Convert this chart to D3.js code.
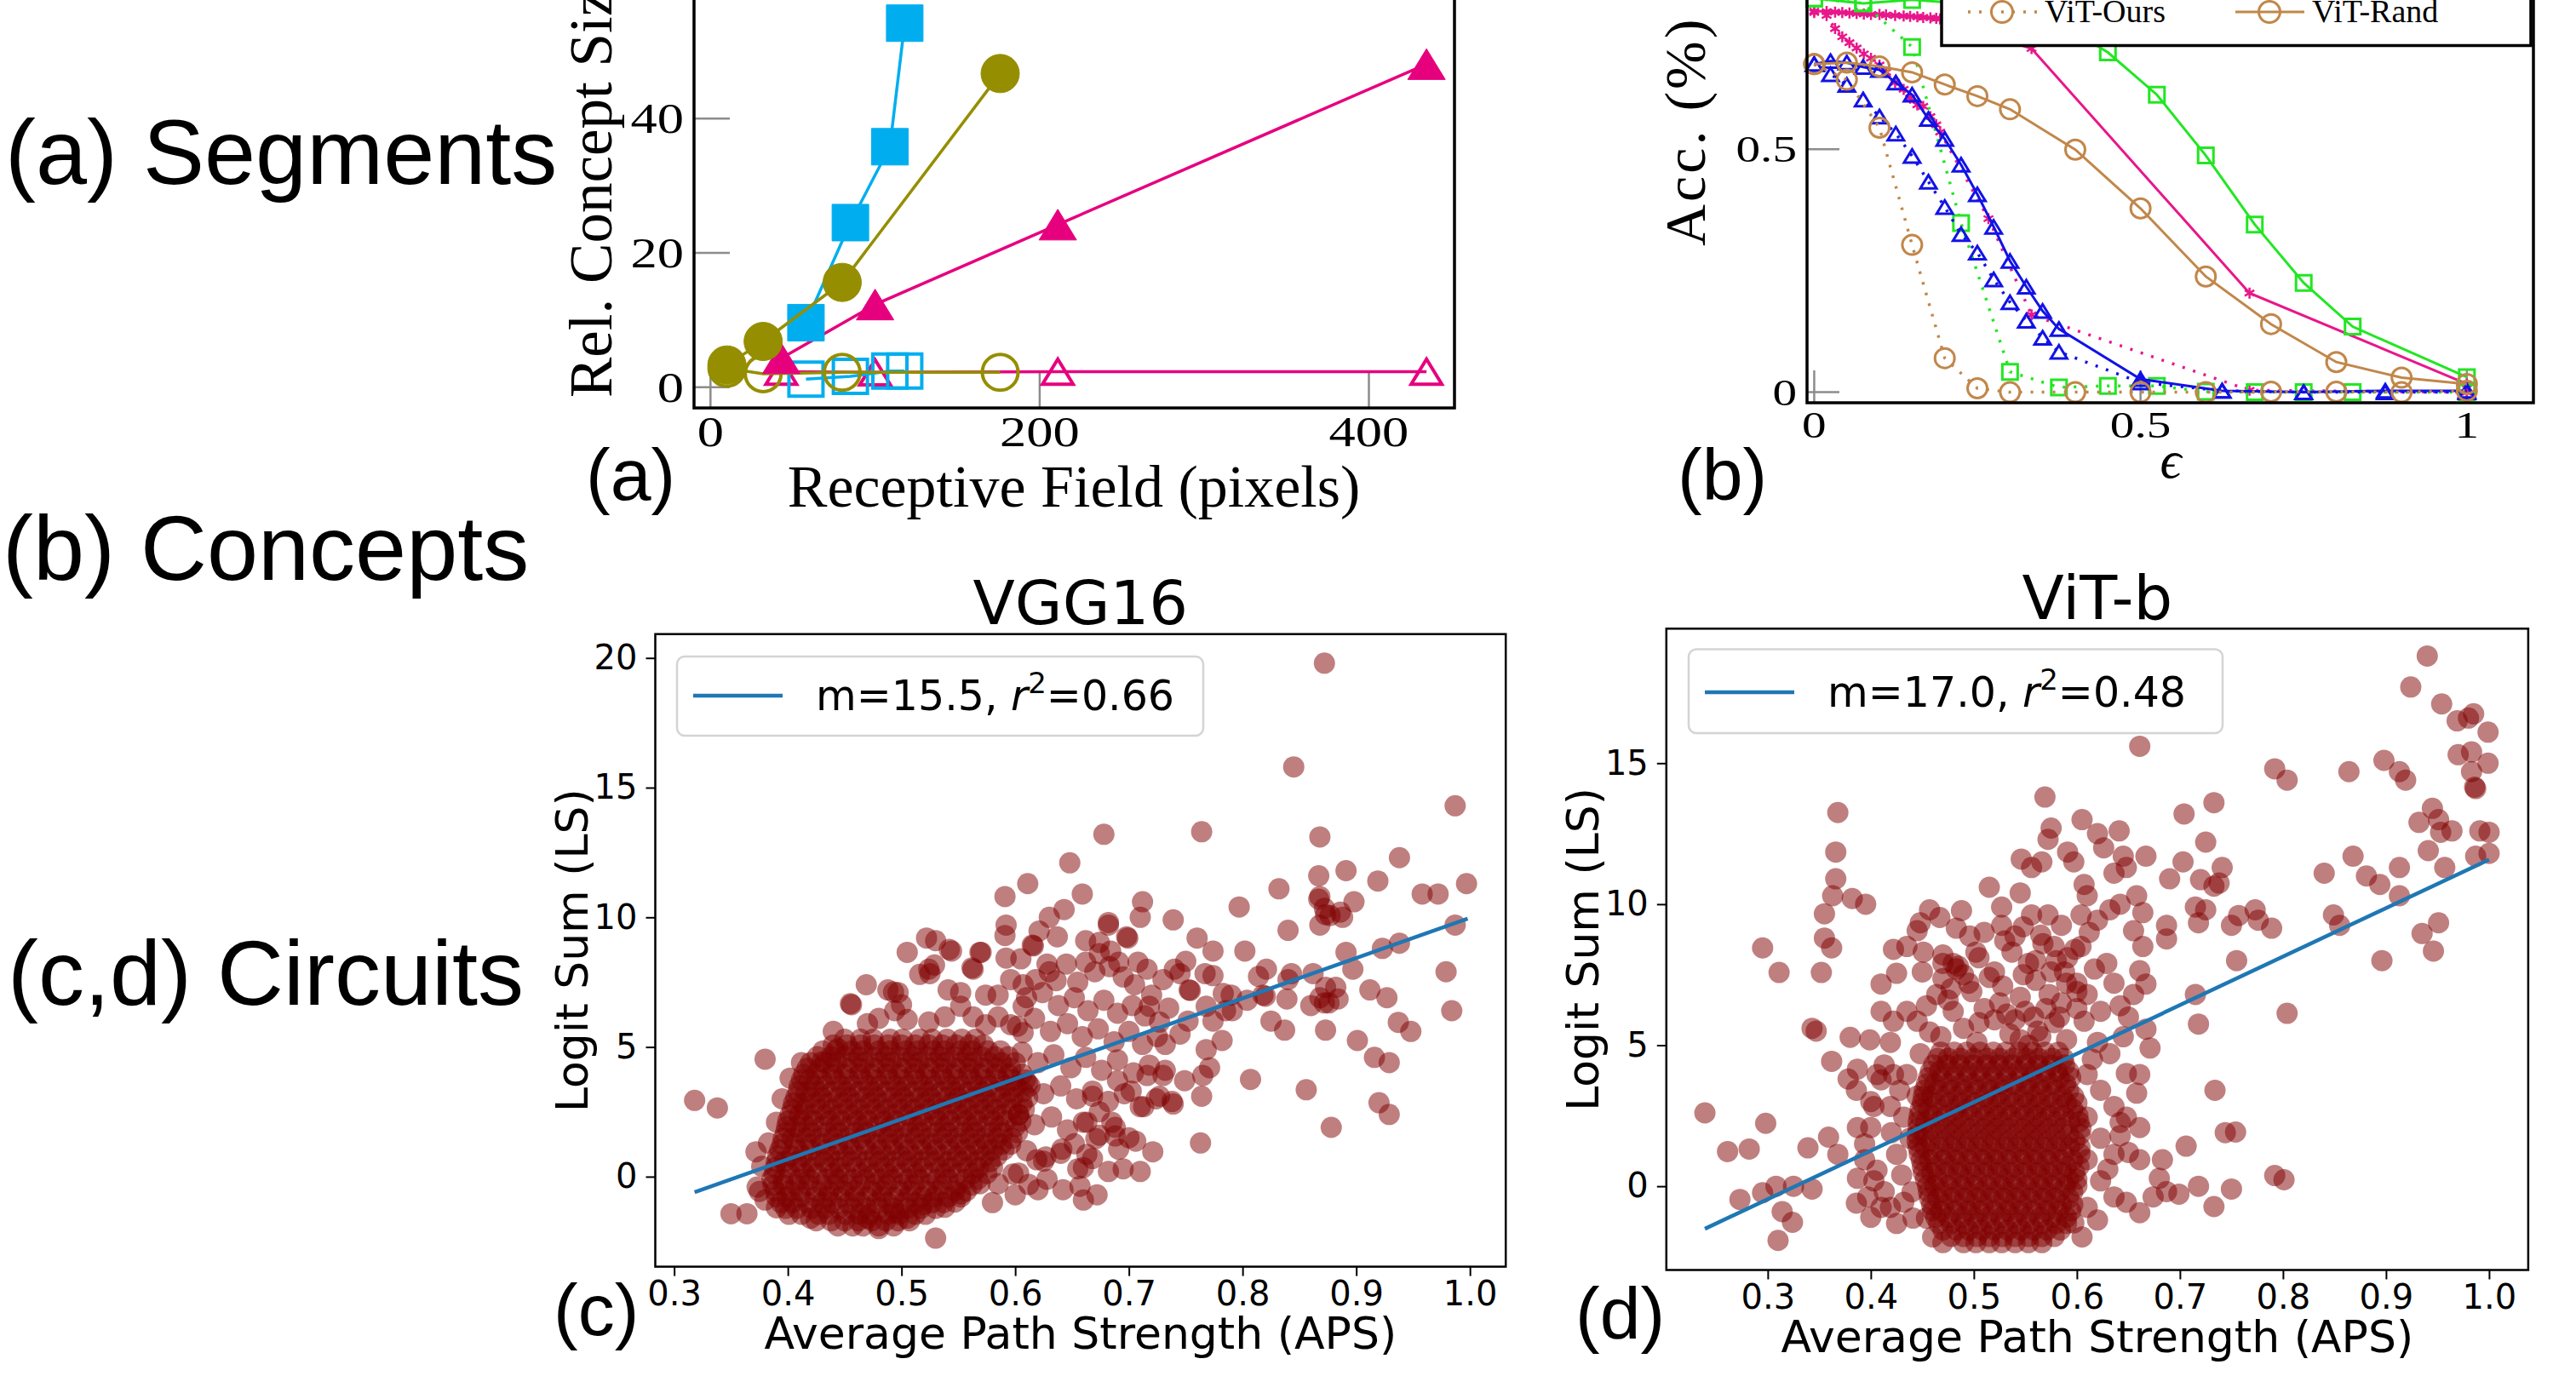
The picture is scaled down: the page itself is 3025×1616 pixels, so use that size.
<!DOCTYPE html>
<html>
<head>
<meta charset="utf-8">
<script src="https://cdn.jsdelivr.net/npm/d3@7"></script>
<style>
body { margin: 0; background: #fff; }
</style>
</head>
<body>
<svg id="fig" width="3025" height="1616"></svg>
<script>
// ---------- row labels ----------
const rowLabels = ['(a) Segments', '(b) Concepts', '(c,d) Circuits'];

// ---------- (a) receptive field vs relative concept size ----------
const rfCyan = [58, 85, 109, 118];
const sizeCyanFilled = [9.6, 24.5, 35.8, 54.2];
const sizeCyanOpen = [1.2, 1.6, 2.4, 2.4];
const rfOlive = [10, 32, 80, 176];
const sizeOliveFilled = [3.3, 6.8, 15.6, 46.7];
const sizeOliveOpen = [2.8, 2.0, 2.2, 2.2];
const rfMagenta = [43, 100, 211, 435];
const sizeMagentaFilled = [4.3, 12.3, 24.2, 48.1];
const sizeMagentaOpen = [2.3, 2.2, 2.3, 2.3];
const segXTicks = [0, 200, 400];
const segYTicks = [0, 20, 40, 60];

// ---------- (b) accuracy vs epsilon ----------
const epsVit = [0, .05, .1, .15, .2, .25, .3, .4, .5, .6, .7, .8, .9, 1];
const accVitRand = [.675, .678, .670, .658, .633, .609, .582, .499, .378, .238, .140, .062, .030, .017];
const accVitOurs = [.675, .643, .544, .303, .070, .008, 0, 0, 0, 0, .001, .001, 0, .003];
const epsBlue = [0, .025, .05, .075, .1, .125, .15, .175, .2, .225, .25, .275, .3, .325, .35, .375, .5, .625, .75, .875, 1];
const accBlueRand = [.675, .681, .678, .669, .663, .637, .612, .562, .521, .468, .407, .34, .27, .217, .167, .13, .027, .003, 0, .003, .003];
const accBlueOurs = [.675, .654, .632, .602, .567, .532, .486, .433, .381, .325, .287, .232, .185, .147, .112, .083, .02, .003, 0, 0, 0];
const epsGreen = [0, .075, .15, .225, .3, .375, .45, .525, .6, .675, .75, .825, 1];
const accGreenRand = [.81, .80, .807, .80, .79, .76, .699, .612, .487, .345, .225, .135, .031];
const accGreenOurs = [.81, .80, .71, .348, .042, .01, .013, .013, .001, 0, 0, 0, 0];
const epsMagOurs = [0, .019, .032, .043, .054, .065, .076, .087, .1, .11, .124, .137, .147, .158, .167, .178, .187, .193, .267, .333, .667, 1];
const accMagOurs = [.781, .775, .748, .731, .719, .708, .696, .687, .673, .658, .637, .623, .605, .591, .588, .567, .55, .535, .357, .159, .004, 0];
const epsMagRand = [0, .019, .032, .043, .054, .065, .076, .087, .1, .11, .124, .137, .147, .158, .167, .178, .187, .193, .333, .667, 1];
const accMagRand = [.784, .783, .782, .781, .780, .779, .778, .777, .777, .776, .775, .774, .773, .772, .771, .770, .769, .768, .707, .204, .017];
const advXTicks = [0, 0.5, 1];
const advYTicks = [0, 0.5, 1];
const advLegend = ['ViT-Ours', 'ViT-Rand'];

// ---------- (c) VGG16 scatter: dense core rows [LS, [APS...]] and single points [APS, LS] ----------
const vggCoreRows = [
  [-1.9, [.444, .457, .466, .48, .493]],
  [-1.7, [.425, .438, .45, .462, .474, .486, .497, .507]],
  [-1.45, [.401, .412, .427, .436, .451, .463, .472, .488, .498, .512, .521]],
  [-1.22, [.398, .408, .421, .433, .445, .457, .469, .48, .493, .505, .517, .53]],
  [-1.0, [.394, .404, .417, .43, .439, .453, .464, .478, .488, .502, .513, .527, .537]],
  [-0.78, [.39, .399, .411, .424, .435, .446, .459, .47, .483, .493, .506, .518, .529, .541, .552]],
  [-0.55, [.389, .402, .411, .425, .436, .449, .459, .474, .483, .498, .508, .522, .532, .547, .557]],
  [-0.32, [.387, .396, .407, .418, .43, .441, .452, .464, .476, .487, .5, .511, .524, .536, .549, .562]],
  [-0.1, [.386, .396, .41, .419, .434, .444, .457, .468, .482, .492, .506, .516, .531, .541, .556, .567]],
  [0.12, [.388, .402, .415, .426, .44, .451, .465, .476, .488, .5, .513, .525, .538, .55, .563, .575]],
  [0.35, [.389, .399, .412, .422, .437, .446, .46, .471, .485, .495, .509, .519, .534, .544, .558, .568, .58]],
  [0.58, [.39, .397, .408, .42, .432, .444, .456, .469, .48, .493, .505, .517, .529, .541, .553, .566, .578]],
  [0.8, [.391, .403, .413, .427, .437, .451, .461, .476, .486, .5, .51, .524, .535, .549, .559, .573, .584]],
  [1.03, [.393, .409, .42, .433, .444, .457, .469, .482, .493, .506, .518, .53, .543, .556, .568, .58, .59]],
  [1.25, [.395, .406, .42, .43, .444, .454, .468, .478, .492, .502, .517, .527, .541, .551, .565, .575, .588, .596]],
  [1.48, [.396, .404, .416, .428, .44, .452, .464, .476, .488, .5, .512, .524, .536, .548, .56, .572, .584, .597]],
  [1.7, [.398, .411, .421, .435, .445, .459, .469, .483, .493, .507, .517, .531, .541, .555, .565, .579, .589, .602]],
  [1.93, [.399, .407, .418, .43, .442, .454, .466, .478, .49, .502, .514, .526, .538, .55, .562, .574, .586, .6]],
  [2.15, [.4, .413, .423, .437, .447, .461, .471, .485, .495, .509, .519, .533, .543, .557, .567, .581, .592, .605]],
  [2.38, [.402, .41, .421, .433, .445, .457, .469, .481, .493, .505, .517, .529, .541, .553, .565, .577, .589, .603]],
  [2.6, [.404, .415, .429, .439, .453, .463, .477, .487, .501, .511, .525, .535, .549, .559, .573, .583, .597, .608]],
  [2.83, [.405, .413, .424, .436, .448, .46, .472, .484, .496, .508, .52, .532, .544, .556, .568, .58, .592, .606]],
  [3.05, [.407, .42, .43, .444, .454, .468, .478, .492, .502, .516, .526, .54, .55, .564, .574, .588, .598, .611]],
  [3.28, [.409, .416, .427, .439, .451, .463, .475, .487, .499, .511, .523, .535, .547, .559, .571, .583, .595, .607]],
  [3.5, [.41, .423, .433, .447, .457, .471, .481, .495, .505, .519, .529, .543, .553, .567, .577, .591, .601, .613]],
  [3.73, [.412, .419, .43, .442, .454, .466, .478, .49, .502, .514, .526, .538, .55, .562, .574, .586, .598, .609]],
  [3.95, [.414, .425, .439, .449, .463, .473, .487, .497, .511, .521, .535, .545, .559, .569, .583, .594, .606]],
  [4.18, [.417, .428, .44, .452, .464, .476, .488, .5, .512, .524, .536, .548, .56, .572, .584, .596]],
  [4.4, [.42, .433, .443, .457, .467, .481, .491, .505, .515, .529, .539, .553, .563, .577, .588, .6]],
  [4.63, [.426, .438, .45, .462, .474, .486, .498, .51, .522, .534, .546, .558, .57, .582, .594]],
  [4.85, [.431, .442, .456, .466, .48, .49, .504, .514, .528, .538, .552, .562, .576, .587]],
  [5.08, [.44, .452, .464, .476, .488, .5, .512, .524, .536, .548, .56, .572]],
  [5.3, [.45, .464, .475, .49, .501, .516, .527, .54, .553, .565]]
];
const vggPts = [
  [.318, 2.94], [.338, 2.65], [.38, 4.53], [.872, 19.8], [.845, 15.8], [.987, 14.3], [.678, 13.2], [.764, 13.3],
  [.868, 13.1], [.648, 12.1], [.611, 11.3], [.591, 10.8], [.659, 10.9], [.938, 12.3], [.919, 11.4], [.891, 11.8],
  [.867, 11.6], [.868, 10.8], [.832, 11.1], [.997, 11.3], [.958, 10.9], [.972, 10.9], [.797, 10.4], [.712, 10.6],
  [.643, 10.3], [.63, 10.0], [.71, 10.0], [.739, 9.9], [.873, 10.1], [.886, 10.2], [.898, 10.6], [.84, 9.5],
  [.868, 9.7], [.987, 9.7], [.76, 9.2], [.774, 8.7], [.802, 8.7], [.591, 9.3], [.53, 9.1], [.544, 8.7],
  [.57, 8.65], [.505, 8.65], [.616, 8.9], [.662, 9.1], [.682, 9.7], [.699, 9.2], [.674, 8.6], [.891, 8.65],
  [.923, 8.8], [.938, 9.0], [.74, 8.0], [.821, 8.0], [.84, 7.6], [.897, 8.0], [.912, 7.2], [.927, 6.9],
  [.979, 7.9], [.873, 7.3], [.876, 6.7], [.86, 6.6], [.753, 7.2], [.79, 7.0], [.804, 6.8], [.818, 7.0],
  [.774, 7.75], [.984, 6.4], [.825, 6.0], [.837, 5.65], [.873, 5.65], [.901, 5.25], [.937, 5.95], [.948, 5.6],
  [.916, 4.6], [.929, 4.4], [.807, 3.75], [.856, 3.35], [.92, 2.85], [.929, 2.4], [.878, 1.9], [.764, 3.1],
  [.763, 1.3], [.739, 2.8], [.721, .96], [.706, 1.37], [.691, 1.06], [.657, -.37], [.53, -2.37], [.505, -1.6],
  [.35, -1.43], [.364, -1.43], [.375, -.57], [.372, .96], [.882, 7.3], [.868, 6.9],
  [.867, 10.7], [.872, 10.35], [.877, 10.07], [.888, 10.0], [.745, 7.83], [.754, 7.18], [.767, 7.83], [.783, 7.06],
  [.791, 6.4], [.814, 7.72], [.843, 7.83], [.862, 7.83], [.884, 6.85], [.872, 6.7], [.82, 6.96], [.839, 6.85],
  [.469, 7.4], [.493, 7.12], [.5, 6.63], [.456, 6.63], [.522, 9.2], [.529, 8.16], [.542, 8.76], [.525, 7.83],
  [.562, 8.05], [.569, 8.65], [.592, 9.7], [.621, 9.47], [.637, 9.25], [.615, 8.93], [.592, 8.43], [.628, 8.2],
  [.636, 7.56], [.662, 8.27], [.691, 8.27], [.708, 8.27], [.698, 9.25], [.684, 8.7], [.674, 9.03], [.682, 9.8],
  [.455, 6.67], [.488, 7.2], [.497, 7.1], [.516, 7.8], [.524, 8.0], [.541, 7.2], [.552, 7.1], [.563, 8.0],
  [.574, 7.0], [.585, 7.0], [.596, 7.6], [.607, 7.4], [.494, 6.4], [.505, 6.06], [.524, 5.96], [.538, 6.16],
  [.552, 6.57], [.563, 6.16], [.574, 5.86], [.585, 6.16], [.596, 5.86], [.607, 6.57], [.607, 5.55], [.444, 4.94],
  [.43, 4.43], [.44, 5.6], [.47, 5.9], [.48, 6.1],
  [.605, 8.4], [.618, 7.6], [.63, 7.9], [.645, 8.2], [.655, 7.5], [.67, 7.9], [.683, 8.1], [.695, 7.7],
  [.61, 6.9], [.624, 7.1], [.638, 6.6], [.652, 6.9], [.664, 6.4], [.678, 6.8], [.69, 6.3], [.703, 6.6], [.714, 6.2],
  [.602, 5.8], [.617, 6.1], [.631, 5.6], [.646, 5.9], [.659, 5.4], [.673, 5.7], [.687, 5.2], [.7, 5.6], [.712, 5.1], [.725, 5.4],
  [.606, 4.8], [.62, 4.4], [.634, 4.7], [.649, 4.2], [.662, 4.6], [.676, 4.1], [.69, 4.5], [.704, 4.0], [.718, 4.3], [.73, 3.9],
  [.611, 3.6], [.625, 3.2], [.64, 3.5], [.654, 3.0], [.668, 3.3], [.682, 2.9], [.696, 3.2], [.71, 2.7], [.724, 3.0],
  [.603, 2.4], [.617, 2.0], [.632, 2.3], [.646, 1.8], [.66, 2.1], [.674, 1.6], [.688, 1.9], [.7, 1.5],
  [.61, 1.0], [.625, .6], [.64, .9], [.655, .3], [.668, .7], [.682, .2],
  [.598, .1], [.612, -.3], [.628, -.1], [.642, -.5], [.66, -.9],
  [.727, 3.1], [.716, 3.9], [.732, 4.1], [.732, 5.1], [.727, 5.96], [.718, 6.57], [.749, 3.7], [.738, 2.9],
  [.765, 3.9], [.771, 4.2], [.768, 4.9], [.782, 5.25], [.774, 6.0], [.785, 6.4], [.768, 6.57], [.702, 3.3],
  [.713, 2.7], [.745, 5.5], [.735, 6.5], [.752, 6.0], [.72, 7.0], [.705, 7.4], [.73, 7.6], [.716, 8.0], [.75, 8.3],
  [.603, .14], [.585, -.27], [.619, .65], [.627, .76], [.66, .35], [.663, .86], [.641, 1.06], [.652, 1.27],
  [.671, 1.47], [.688, 1.57], [.685, 2.1], [.663, 2.1], [.674, 2.5], [.668, 3.1], [.69, 3.7], [.569, -.27],
  [.552, -.67], [.547, -.98], [.538, -1.18], [.519, -1.08], [.494, -1.39], [.47, -1.6], [.42, -1.6], [.39, -1.2],
  [.38, -.9], [.373, -.4], [.377, .4], [.383, 1.3], [.39, 2.1], [.395, 3.0], [.402, 3.8], [.412, 4.4],
  [.48, -2.0], [.62, -.5], [.58, -1.0], [.6, -.7], [.672, -.7], [.695, .3], [.71, .2]
];
const vggFit = [[0.318, -0.6], [0.998, 9.95]];
const vggFitLabel = ['15.5', '0.66'];

// ---------- (d) ViT-b scatter ----------
const vitCoreRows = [
  [-2.0, [.49, .502, .515, .527, .54, .553, .566]],
  [-1.78, [.478, .49, .503, .515, .528, .54, .553, .566, .578]],
  [-1.55, [.47, .483, .495, .508, .52, .533, .546, .558, .571, .584]],
  [-1.32, [.466, .478, .491, .504, .516, .529, .542, .554, .567, .58, .59]],
  [-1.1, [.463, .475, .488, .5, .513, .526, .538, .551, .564, .576, .59]],
  [-0.88, [.46, .468, .481, .494, .506, .519, .532, .544, .557, .57, .582, .594]],
  [-0.65, [.459, .471, .484, .497, .509, .522, .535, .547, .56, .573, .585, .596]],
  [-0.42, [.457, .465, .478, .491, .503, .516, .529, .541, .554, .567, .579, .592]],
  [-0.2, [.456, .469, .481, .494, .507, .519, .532, .545, .557, .57, .583, .596]],
  [0.02, [.455, .462, .475, .488, .5, .513, .526, .538, .551, .564, .576, .589, .6]],
  [0.25, [.453, .465, .478, .491, .503, .516, .529, .541, .554, .567, .579, .592, .6]],
  [0.48, [.451, .459, .472, .485, .497, .51, .523, .535, .548, .561, .573, .586, .598]],
  [0.7, [.45, .463, .476, .488, .501, .514, .526, .539, .552, .564, .577, .59, .602]],
  [0.93, [.449, .457, .47, .482, .495, .508, .52, .533, .546, .558, .571, .584, .596]],
  [1.15, [.447, .46, .473, .485, .498, .511, .523, .536, .549, .561, .574, .587, .603]],
  [1.38, [.446, .453, .466, .479, .492, .504, .517, .53, .542, .555, .568, .58, .593, .603]],
  [1.6, [.445, .458, .471, .483, .496, .509, .521, .534, .547, .559, .572, .585, .598]],
  [1.83, [.445, .452, .465, .478, .49, .503, .516, .528, .541, .554, .566, .579, .592, .603]],
  [2.05, [.446, .459, .472, .484, .497, .51, .522, .535, .548, .56, .573, .586, .604]],
  [2.28, [.446, .453, .466, .479, .491, .504, .517, .529, .542, .555, .567, .58, .593, .602]],
  [2.5, [.447, .46, .473, .485, .498, .511, .523, .536, .549, .561, .574, .587, .601]],
  [2.73, [.448, .456, .469, .482, .494, .507, .52, .532, .545, .558, .57, .583, .596]],
  [2.95, [.45, .463, .476, .488, .501, .514, .526, .539, .552, .564, .577, .59, .6]],
  [3.18, [.451, .459, .472, .484, .497, .51, .522, .535, .548, .56, .573, .586, .597]],
  [3.4, [.452, .465, .478, .49, .503, .516, .528, .541, .554, .566, .579, .592]],
  [3.63, [.454, .462, .475, .488, .5, .513, .526, .538, .551, .564, .576, .589]],
  [3.85, [.456, .469, .481, .494, .507, .519, .532, .545, .557, .57, .583, .594]],
  [4.08, [.458, .467, .48, .493, .505, .518, .531, .543, .556, .569, .581, .592]],
  [4.3, [.461, .474, .486, .499, .512, .524, .537, .55, .562, .575, .588]],
  [4.53, [.465, .475, .487, .5, .513, .525, .538, .551, .563, .576, .587]],
  [4.75, [.468, .481, .493, .506, .519, .531, .544, .557, .569, .582]]
];
const vitPts = [
  [.239, 2.6], [.261, 1.23], [.282, 1.32], [.273, -.47], [.295, -.23], [.298, 2.23], [.295, 8.45], [.311, 7.58],
  [.308, 0], [.314, -.9], [.324, -1.28], [.31, -1.92], [.325, 0], [.339, 1.36], [.359, 1.74], [.343, -.1],
  [.343, 5.6], [.347, 5.5], [.352, 7.58], [.355, 9.66], [.363, 10.3], [.355, 8.8], [.362, 8.45], [.366, 10.9],
  [.366, 11.85], [.368, 13.25], [.382, 10.2], [.395, 10.0], [.362, 4.43],
  [.368, 1.13], [.387, .28], [.386, -.6], [.4, -1.1], [.38, 5.28], [.399, 5.19], [.387, 4.15], [.386, 3.4],
  [.4, 2.08], [.378, 3.8], [.387, 2.08], [.394, 1.5], [.403, 2.83], [.406, 3.96], [.41, 6.2], [.41, 7.17],
  [.422, 8.4], [.425, 7.55], [.419, 5.1], [.422, 3.96], [.419, 2.83], [.435, 8.5], [.445, 9.06], [.451, 8.3],
  [.448, 9.34], [.457, 9.8], [.467, 9.53], [.488, 9.77], [.483, 9.15], [.496, 8.87], [.502, 8.3],
  [.406, .57], [.413, -.19], [.419, -.75], [.432, -.57], [.441, -1.13], [.454, -1.13], [.425, 1.13], [.438, 1.7],
  [.432, 2.45], [.445, 3.2], [.435, 3.96], [.448, 4.7], [.457, 5.47], [.445, 5.85], [.454, 6.4], [.464, 6.8],
  [.47, 7.36], [.435, 6.2], [.422, 5.85], [.413, 4.3], [.41, 3.77], [.4, 3.0], [.394, .94], [.403, .19],
  [.41, -.75], [.397, -.38], [.425, -1.32], [.43, .4], [.42, 1.9], [.44, -.2], [.428, 3.4], [.45, 7.6],
  [.47, 8.2], [.48, 7.9], [.478, 7.0], [.49, 7.5], [.46, -1.8], [.47, -2.0],
  [.468, 5.3], [.49, 5.6], [.503, 5.1], [.52, 5.9], [.535, 5.4], [.55, 6.2], [.562, 5.5], [.578, 5.8],
  [.59, 5.2], [.6, 6.3], [.475, 6.6], [.498, 6.9], [.51, 6.3], [.528, 7.1], [.545, 6.7], [.56, 7.3],
  [.573, 6.8], [.588, 7.6], [.6, 6.9], [.485, 7.8], [.505, 8.1], [.52, 7.6], [.537, 8.3], [.553, 7.9],
  [.567, 8.6], [.58, 8.0], [.598, 8.4], [.51, 9.0], [.53, 8.7], [.548, 9.2], [.565, 8.9], [.505, 5.8],
  [.48, 6.2], [.545, 5.2], [.525, 6.5], [.558, 6.0], [.57, 6.3], [.515, 7.4], [.495, 7.2], [.583, 6.0],
  [.54, 5.9], [.553, 5.0], [.532, 6.1], [.548, 7.5], [.565, 5.3],
  [.515, 10.6], [.527, 9.9], [.545, 10.4], [.556, 9.62], [.546, 11.6], [.569, 13.8], [.575, 12.7], [.556, 11.3],
  [.566, 11.5], [.572, 12.3], [.591, 11.85], [.597, 11.5], [.605, 13.0], [.62, 12.5], [.626, 12.0], [.641, 12.6],
  [.645, 11.7], [.636, 11.1], [.607, 10.7], [.61, 10.3], [.604, 9.62], [.62, 9.43], [.632, 9.8], [.642, 10.0],
  [.648, 11.3], [.658, 10.3], [.664, 9.7], [.655, 9.06], [.664, 8.5], [.661, 7.64], [.667, 7.17], [.655, 6.8],
  [.642, 6.4], [.661, 15.6], [.667, 11.7], [.527, 9.25], [.54, 8.87], [.572, 9.62], [.585, 9.25], [.578, 8.5],
  [.591, 8.1], [.47, 7.9], [.483, 7.7], [.56, 8.0], [.575, 7.6], [.59, 7.2], [.585, 6.5],
  [.604, 8.5], [.617, 7.7], [.629, 7.9], [.61, 6.8], [.623, 6.2], [.636, 7.2], [.607, 5.85], [.62, 5.1],
  [.632, 4.7], [.645, 5.3], [.61, 3.96], [.623, 3.4], [.636, 2.83], [.648, 2.45], [.661, 2.08], [.61, 2.45],
  [.623, 1.7], [.636, 1.13], [.65, 1.2], [.661, .94], [.61, .94], [.623, .19], [.636, -.38], [.648, -.57],
  [.661, -.94], [.61, -.75], [.597, -1.3], [.687, -.19], [.674, -.38], [.68, .28], [.699, -.28], [.667, 5.57],
  [.671, 4.9], [.642, 2.26], [.658, 3.3], [.683, .94], [.661, 3.96], [.648, 4.0], [.642, 1.79], [.605, -1.8],
  [.62, -1.2], [.63, .6], [.615, 4.5], [.65, 6.0], [.6, 7.2], [.612, 9.0],
  [.69, 10.9], [.703, 11.5], [.704, 13.2], [.725, 12.2], [.733, 13.6], [.741, 11.3], [.738, 10.75], [.725, 9.8],
  [.718, 9.34], [.715, 9.9], [.687, 9.25], [.687, 8.77], [.757, 9.6], [.773, 9.8], [.776, 9.43], [.789, 9.15],
  [.75, 9.25], [.755, 8.0], [.715, 6.8], [.718, 5.75], [.734, 3.4], [.706, 1.42], [.744, 1.9], [.754, 1.92],
  [.718, 0], [.75, -.1], [.733, -.72], [.792, .38], [.801, .23], [.804, 6.13], [.792, 14.8], [.804, 14.4],
  [.84, 11.1], [.849, 9.62], [.855, 9.25], [.864, 14.7], [.868, 11.7], [.881, 11.0], [.894, 10.7], [.896, 8.0],
  [.898, 15.1], [.913, 14.7], [.919, 14.4], [.913, 11.3], [.913, 10.3], [.924, 17.7], [.94, 18.8], [.932, 12.9],
  [.941, 11.9], [.945, 13.4], [.951, 13.0], [.953, 12.55], [.954, 17.1], [.957, 11.3], [.964, 12.6], [.969, 16.5],
  [.97, 15.3], [.98, 16.6], [.983, 15.4], [.983, 14.7], [.985, 16.75], [.986, 14.15], [.987, 14.1], [.991, 12.6],
  [.999, 16.1], [.999, 15.0], [1.0, 12.55], [1.0, 11.8], [.987, 11.7], [.935, 8.96], [.946, 8.34], [.951, 9.34],
  [.72, 10.87], [.733, 10.64]
];
const vitFit = [[0.239, -1.51], [1.0, 11.58]];
const vitFitLabel = ['17.0', '0.48'];
const apsTicks = [0.3, 0.4, 0.5, 0.6, 0.7, 0.8, 0.9, 1.0];

// ---------- drawing ----------
const SERIF = "'Liberation Serif', 'DejaVu Serif', serif";
const SANS = "'Liberation Sans', Arial, sans-serif";
const DEJAVU = "'DejaVu Sans', sans-serif";
const svg = d3.select('#fig');
svg.append('rect').attr('width', 3025).attr('height', 1616).attr('fill', '#fff');

function stretch(k) {
  return function() {
    const w = this.getComputedTextLength();
    this.setAttribute('textLength', w * k);
    this.setAttribute('lengthAdjust', 'spacingAndGlyphs');
  };
}

// big row labels
svg.selectAll('.rowlab').data(rowLabels).join('text')
  .attr('class', 'rowlab')
  .attr('x', (d, i) => [6, 3, 9][i])
  .attr('y', (d, i) => [216, 681, 1180][i])
  .style('font-family', SANS).style('font-size', '108px')
  .text(d => d);

const shapes = {
  square: s => `M${-s / 2},${-s / 2}h${s}v${s}h${-s}Z`,
  circle: s => `M${-s / 2},0a${s / 2},${s / 2} 0 1,0 ${s},0a${s / 2},${s / 2} 0 1,0 ${-s},0`,
  triangle: s => `M0,${-s * 0.41}L${s / 2},${s * 0.41}L${-s / 2},${s * 0.41}Z`,
  star: s => `M0,${-s / 2}V${s / 2}M${-s * 0.43},${-s / 4}L${s * 0.43},${s / 4}M${-s * 0.43},${s / 4}L${s * 0.43},${-s / 4}`
};

function drawSeries(g, xs, ys, sx, sy, o) {
  const pts = xs.map((x, i) => [x, ys[i]]);
  if (o.line !== false) {
    g.append('path').datum(pts)
      .attr('d', d3.line().x(d => sx(d[0])).y(d => sy(d[1])))
      .attr('fill', 'none').attr('stroke', o.color)
      .attr('stroke-width', o.width || 3)
      .attr('stroke-dasharray', o.dash || null);
  }
  g.append('g').selectAll('path').data(pts).join('path')
    .attr('transform', d => `translate(${sx(d[0])},${sy(d[1])})`)
    .attr('d', shapes[o.shape](o.size))
    .attr('fill', o.filled ? o.color : 'none')
    .attr('stroke', o.color)
    .attr('stroke-width', o.filled ? 1 : (o.msw || 3));
}

// ===== panel (a) =====
{
  const g = svg.append('g');
  const x = d3.scaleLinear().domain([-10, 452]).range([815, 1708]);
  const y = d3.scaleLinear().domain([-3.1, 62]).range([479.1, -34.3]);
  const cyan = '#00AEEF', olive = '#958E00', mag = '#E6007E';

  segYTicks.forEach(v => g.append('line').attr('x1', x(-10)).attr('x2', x(-10) + 42)
    .attr('y1', y(v)).attr('y2', y(v)).attr('stroke', '#8c8c8c').attr('stroke-width', 2.5));
  segXTicks.forEach(v => g.append('line').attr('x1', x(v)).attr('x2', x(v))
    .attr('y1', y(-3.1)).attr('y2', y(-3.1) - 42).attr('stroke', '#8c8c8c').attr('stroke-width', 2.5));

  drawSeries(g, rfMagenta, sizeMagentaOpen, x, y, { color: mag, shape: 'triangle', size: 36, width: 3.5, msw: 4 });
  drawSeries(g, rfCyan, sizeCyanOpen, x, y, { color: cyan, shape: 'square', size: 40, width: 3.5, msw: 4 });
  drawSeries(g, rfOlive, sizeOliveOpen, x, y, { color: olive, shape: 'circle', size: 42, width: 3.5, msw: 4 });
  drawSeries(g, rfMagenta, sizeMagentaFilled, x, y, { color: mag, shape: 'triangle', size: 44, width: 3.5, filled: true });
  drawSeries(g, rfCyan, sizeCyanFilled, x, y, { color: cyan, shape: 'square', size: 43, width: 3.5, filled: true });
  drawSeries(g, rfOlive, sizeOliveFilled, x, y, { color: olive, shape: 'circle', size: 45, width: 3.5, filled: true });

  g.append('rect').attr('x', x(-10)).attr('y', y(62)).attr('width', x(452) - x(-10)).attr('height', y(-3.1) - y(62))
    .attr('fill', 'none').attr('stroke', '#000').attr('stroke-width', 3.5);

  g.selectAll('.yt').data(segYTicks).join('text').attr('class', 'yt')
    .attr('x', 803).attr('y', d => y(d)).attr('dy', '0.34em').attr('text-anchor', 'end')
    .style('font-family', SERIF).style('font-size', '50px').text(d => d).each(stretch(1.25));
  g.selectAll('.xt').data(segXTicks).join('text').attr('class', 'xt')
    .attr('x', d => x(d)).attr('y', 524).attr('text-anchor', 'middle')
    .style('font-family', SERIF).style('font-size', '50px').text(d => d).each(stretch(1.25));

  g.append('text').attr('x', 1261).attr('y', 595).attr('text-anchor', 'middle')
    .style('font-family', SERIF).style('font-size', '70px').text('Receptive Field (pixels)');
  g.append('text').attr('transform', 'translate(718,467) rotate(-90)')
    .style('font-family', SERIF).style('font-size', '71px')
    .text('Rel. Concept Size');
  g.append('text').attr('x', 688).attr('y', 587)
    .style('font-family', SANS).style('font-size', '86px').text('(a)');
}

// ===== panel (b) =====
{
  const g = svg.append('g');
  const x = d3.scaleLinear().domain([-0.011, 1.102]).range([2122, 2975]);
  const y = d3.scaleLinear().domain([-0.0217, 0.88]).range([473, -41.8]);
  const brown = '#C1874A', green = '#22E622', mag = '#E8178A', blue = '#1212E6';
  const dot = '3 10';

  advYTicks.forEach(v => g.append('line').attr('x1', 2122).attr('x2', 2160)
    .attr('y1', y(v)).attr('y2', y(v)).attr('stroke', '#8c8c8c').attr('stroke-width', 2.5));
  advXTicks.forEach(v => g.append('line').attr('x1', x(v)).attr('x2', x(v))
    .attr('y1', 473).attr('y2', 435).attr('stroke', '#8c8c8c').attr('stroke-width', 2.5));

  drawSeries(g, epsMagRand, accMagRand, x, y, { color: mag, shape: 'star', size: 13, width: 3, msw: 2.5 });
  drawSeries(g, epsMagOurs, accMagOurs, x, y, { color: mag, shape: 'star', size: 13, width: 3.5, dash: dot, msw: 2.5 });
  drawSeries(g, epsGreen, accGreenRand, x, y, { color: green, shape: 'square', size: 18, width: 3, msw: 3 });
  drawSeries(g, epsGreen, accGreenOurs, x, y, { color: green, shape: 'square', size: 18, width: 3.5, dash: dot, msw: 3 });
  drawSeries(g, epsBlue, accBlueOurs, x, y, { color: blue, shape: 'triangle', size: 19, width: 3.5, dash: dot, msw: 3 });
  drawSeries(g, epsBlue, accBlueRand, x, y, { color: blue, shape: 'triangle', size: 19, width: 3, msw: 3 });
  drawSeries(g, epsVit, accVitOurs, x, y, { color: brown, shape: 'circle', size: 23, width: 3.5, dash: dot, msw: 3 });
  drawSeries(g, epsVit, accVitRand, x, y, { color: brown, shape: 'circle', size: 23, width: 3, msw: 3 });

  // legend (upper rows are outside the picture)
  g.append('rect').attr('x', 2280).attr('y', -200).attr('width', 692).attr('height', 253.5)
    .attr('fill', '#fff').attr('stroke', '#000').attr('stroke-width', 3.5);
  const legX = [2311, 2625];
  advLegend.forEach((name, i) => {
    g.append('line').attr('x1', legX[i]).attr('x2', legX[i] + 81).attr('y1', 14).attr('y2', 14)
      .attr('stroke', brown).attr('stroke-width', i ? 3 : 3.5).attr('stroke-dasharray', i ? null : dot);
    g.append('path').attr('transform', `translate(${legX[i] + 40},14)`).attr('d', shapes.circle(25))
      .attr('fill', 'none').attr('stroke', brown).attr('stroke-width', 3);
    g.append('text').attr('x', legX[i] + 90).attr('y', 26)
      .style('font-family', SERIF).style('font-size', '38px').text(name);
  });

  g.append('rect').attr('x', 2122).attr('y', -41.8).attr('width', 853).attr('height', 514.8)
    .attr('fill', 'none').attr('stroke', '#000').attr('stroke-width', 3.5);

  g.selectAll('.yt').data(advYTicks).join('text').attr('class', 'yt')
    .attr('x', 2110).attr('y', d => y(d)).attr('dy', '0.34em').attr('text-anchor', 'end')
    .style('font-family', SERIF).style('font-size', '44px').text(d => d).each(stretch(1.3));
  g.selectAll('.xt').data(advXTicks).join('text').attr('class', 'xt')
    .attr('x', d => x(d)).attr('y', 514).attr('text-anchor', 'middle')
    .style('font-family', SERIF).style('font-size', '44px').text(d => d).each(stretch(1.3));

  g.append('text').attr('x', 2549).attr('y', 561).attr('text-anchor', 'middle')
    .style('font-family', SERIF).style('font-style', 'italic').style('font-size', '62px').text('\u03F5');
  g.append('text').attr('transform', 'translate(2002,289) rotate(-90)')
    .style('font-family', SERIF).style('font-size', '68px').style('letter-spacing', '3px')
    .text('Acc. (%)');
  g.append('text').attr('x', 1970).attr('y', 587)
    .style('font-family', SANS).style('font-size', '86px').text('(b)');
}

// ===== panels (c) and (d) =====
function drawScatter(c) {
  const g = svg.append('g');
  const x = d3.scaleLinear().domain(c.xd).range([c.box[0], c.box[2]]);
  const y = d3.scaleLinear().domain(c.yd).range([c.box[3], c.box[1]]);
  const pts = c.rows.flatMap(r => r[1].map(v => [v, r[0]])).concat(c.pts);

  g.append('g').selectAll('circle').data(pts).join('circle')
    .attr('cx', d => x(d[0])).attr('cy', d => y(d[1])).attr('r', 12.5)
    .attr('fill', '#800000').attr('fill-opacity', 0.5);

  g.append('path').datum(c.fit)
    .attr('d', d3.line().x(d => x(d[0])).y(d => y(d[1])))
    .attr('stroke', '#1f77b4').attr('stroke-width', 4.5).attr('fill', 'none');

  const xAxis = g.append('g').attr('transform', `translate(0,${c.box[3]})`)
    .call(d3.axisBottom(x).tickValues(apsTicks).tickFormat(d3.format('.1f')).tickSize(11).tickPadding(6));
  const yAxis = g.append('g').attr('transform', `translate(${c.box[0]},0)`)
    .call(d3.axisLeft(y).tickValues(c.yTicks).tickSize(11).tickPadding(10));
  [xAxis, yAxis].forEach(a => {
    a.select('.domain').remove();
    a.selectAll('line').attr('stroke', '#000').attr('stroke-width', 2);
    a.selectAll('text').style('font-family', DEJAVU).style('font-size', '40px').attr('fill', '#000');
  });

  g.append('rect').attr('x', c.box[0]).attr('y', c.box[1])
    .attr('width', c.box[2] - c.box[0]).attr('height', c.box[3] - c.box[1])
    .attr('fill', 'none').attr('stroke', '#000').attr('stroke-width', 2.5);

  // legend
  const L = c.leg;
  g.append('rect').attr('x', L[0]).attr('y', L[1]).attr('width', L[2] - L[0]).attr('height', L[3] - L[1])
    .attr('rx', 9).attr('fill', '#fff').attr('fill-opacity', 0.8).attr('stroke', '#d4d4d4').attr('stroke-width', 2.5);
  g.append('line').attr('x1', L[0] + 19).attr('x2', L[0] + 124).attr('y1', c.legY).attr('y2', c.legY)
    .attr('stroke', '#1f77b4').attr('stroke-width', 4.5);
  const t = g.append('text').attr('x', L[0] + 163).attr('y', c.legY + 17)
    .style('font-family', DEJAVU).style('font-size', '49px');
  t.append('tspan').text(`m=${c.label[0]}, `);
  t.append('tspan').style('font-style', 'italic').text('r');
  t.append('tspan').attr('dy', -20).style('font-size', '34px').text('2');
  t.append('tspan').attr('dy', 20).text(`=${c.label[1]}`);

  const cx = (c.box[0] + c.box[2]) / 2, cy = (c.box[1] + c.box[3]) / 2;
  g.append('text').attr('x', cx).attr('y', c.titleY).attr('text-anchor', 'middle')
    .style('font-family', DEJAVU).style('font-size', '72px').text(c.title);
  g.append('text').attr('x', cx).attr('y', c.box[3] + 96).attr('text-anchor', 'middle')
    .style('font-family', DEJAVU).style('font-size', '52px').text('Average Path Strength (APS)');
  g.append('text').attr('transform', `translate(${c.ylabX},${cy}) rotate(-90)`).attr('text-anchor', 'middle')
    .style('font-family', DEJAVU).style('font-size', '52px').text('Logit Sum (LS)');
  g.append('text').attr('x', c.tag[1]).attr('y', c.tag[2])
    .style('font-family', SANS).style('font-size', '86px').text(c.tag[0]);
}

drawScatter({
  box: [769.5, 744.7, 1768.2, 1487.6], xd: [0.2834, 1.0315], yd: [-3.47, 20.92],
  yTicks: [0, 5, 10, 15, 20], rows: vggCoreRows, pts: vggPts, fit: vggFit, label: vggFitLabel,
  title: 'VGG16', titleY: 733, leg: [795, 771, 1413, 864], legY: 817, ylabX: 690, tag: ['(c)', 650, 1568]
});
drawScatter({
  box: [1956.8, 738.3, 2968.9, 1491.5], xd: [0.2016, 1.038], yd: [-2.97, 19.77],
  yTicks: [0, 5, 10, 15], rows: vitCoreRows, pts: vitPts, fit: vitFit, label: vitFitLabel,
  title: 'ViT-b', titleY: 727, leg: [1983, 762.5, 2610, 861], legY: 813, ylabX: 1877, tag: ['(d)', 1850, 1572]
});
</script>
</body>
</html>
